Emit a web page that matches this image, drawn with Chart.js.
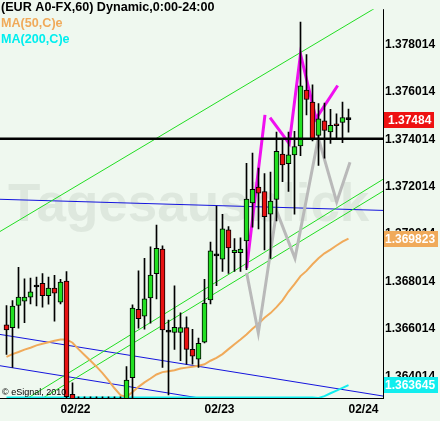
<!DOCTYPE html>
<html><head><meta charset="utf-8">
<script src="https://cdn.jsdelivr.net/npm/chart.js@4.4.1/dist/chart.umd.min.js"></script>
<style>html,body{margin:0;padding:0;background:#eff8ef;overflow:hidden}#wrap{width:440px;height:421px}</style>
</head><body><div id="wrap"><canvas id="c" width="440" height="421"></canvas></div>
<script>
// ---- data (hourly EUR/USD candles, index 0 = 02/21 15:00) ----
const opens  = [1.36618,1.36607,1.36700,1.36718,1.36735,1.36778,1.36794,1.36741,1.36774,1.36714,
                1.36803,1.36325,1.36290,1.36270,1.36255,1.36265,1.36250,1.36262,1.36245,1.36270,
                1.36285,1.36396,1.36684,1.36655,1.36732,1.36834,1.36938,1.36588,1.36586,1.36586,
                1.36607,1.36515,1.36474,1.36545,1.36724,1.36909,1.36895,1.37019,1.36923,1.36923,
                1.36972,1.37133,1.37199,1.37181,1.37085,1.37147,1.37339,1.37298,1.37335,1.37373,
                1.37609,1.37558,1.37417,1.37479,1.37432,1.37466,1.37472,1.37484];
const highs  = [1.36700,1.36721,1.36861,1.36813,1.36816,1.36820,1.36835,1.36820,1.36827,1.36810,
                1.36843,1.36374,1.36315,1.36315,1.36315,1.36315,1.36315,1.36315,1.36315,1.36315,
                1.36442,1.36703,1.36846,1.36899,1.36947,1.37039,1.36952,1.36639,1.36783,1.36669,
                1.36652,1.36600,1.36563,1.36810,1.36968,1.37119,1.37085,1.37033,1.36982,1.36985,
                1.37300,1.37343,1.37280,1.37256,1.37263,1.37431,1.37403,1.37431,1.37435,1.37895,
                1.37758,1.37631,1.37552,1.37554,1.37527,1.37508,1.37558,1.37528];
const lows   = [1.36494,1.36439,1.36604,1.36628,1.36707,1.36698,1.36693,1.36706,1.36634,1.36707,
                1.36250,1.36220,1.36220,1.36200,1.36210,1.36190,1.36200,1.36180,1.36210,1.36220,
                1.36240,1.36280,1.36604,1.36600,1.36625,1.36728,1.36439,1.36323,1.36515,1.36467,
                1.36453,1.36453,1.36439,1.36542,1.36707,1.36784,1.36844,1.36835,1.36844,1.36844,
                1.36851,1.37030,1.37023,1.36934,1.36899,1.37057,1.37222,1.37181,1.37085,1.37332,
                1.37504,1.37394,1.37291,1.37321,1.37384,1.37407,1.37387,1.37431];
const closes = [1.36597,1.36698,1.36736,1.36736,1.36758,1.36778,1.36741,1.36774,1.36752,1.36799,
                1.36316,1.36290,1.36270,1.36255,1.36265,1.36250,1.36262,1.36245,1.36270,1.36280,
                1.36385,1.36689,1.36645,1.36728,1.36828,1.36941,1.36597,1.36588,1.36608,1.36607,
                1.36515,1.36486,1.36540,1.36710,1.36931,1.36909,1.37023,1.36943,1.36934,1.36938,
                1.37149,1.37190,1.37174,1.37075,1.37140,1.37350,1.37293,1.37335,1.37370,1.37627,
                1.37569,1.37403,1.37487,1.37438,1.37460,1.37458,1.37493,1.37484];
const ma50   = [1.36483,1.36495,1.36504,1.36514,1.36522,1.36532,1.36539,1.36545,1.36551,1.36557,
                1.36557,1.36543,1.36516,1.36491,1.36467,1.36442,1.36415,1.36384,1.36351,1.36322,
                1.36314,1.36335,1.36357,1.36376,1.36392,1.36409,1.36419,1.36423,1.36427,1.36434,
                1.36438,1.36442,1.36446,1.36452,1.36467,1.36479,1.36495,1.36516,1.36537,1.36557,
                1.36578,1.36602,1.36623,1.36648,1.36668,1.36693,1.36722,1.36759,1.36790,1.36824,
                1.36846,1.36874,1.36899,1.36920,1.36936,1.36953,1.36969,1.369823];
const ma200  = [1.36312,1.36312,1.36312,1.36312,1.36312,1.36312,1.36312,1.36312,1.36312,1.36312,
                1.36312,1.36312,1.36312,1.36312,1.36312,1.36312,1.36312,1.36312,1.36312,1.36312,
                1.36312,1.36312,1.36312,1.36312,1.36312,1.36312,1.36312,1.36312,1.36312,1.36312,
                1.36312,1.36312,1.36312,1.36312,1.36312,1.36312,1.36312,1.36312,1.36312,1.36312,
                1.36312,1.36312,1.36312,1.36312,1.36312,1.36312,1.36312,1.36312,1.36312,1.36312,
                1.36312,1.36312,1.36310,1.36318,1.36330,1.36341,1.36353,1.363645];
// hand-drawn patterns (x in candle index units, y in price)
const magentaX = [40.03,43.08,43.5,43.92,47.13,49.00,51.58,55.20];
const magentaY = [1.36858,1.37504,null,1.37492,1.37383,1.37760,1.37488,1.37628];
const grayX    = [40.03,41.97,45.03,48.08,51.97,55.03,57.25];
const grayY    = [1.36837,1.36584,1.37098,1.36899,1.37407,1.37137,1.37304];
// trend lines: [x0, x1], [y0, y1]
const supportX = [-1.09,62.8],  supportY = [1.37403,1.37403];
const greenUpX = [-1.09,62.8],  greenUpY = [1.37012,1.37975];
const greenAX  = [3.58,62.8],   greenAY  = [1.36310,1.37233];
const greenBX  = [6.08,62.8],   greenBY  = [1.36310,1.37183];
const blue1X   = [-1.09,62.8],  blue1Y   = [1.37148,1.37101];
const blue2X   = [-1.09,62.8],  blue2Y   = [1.36578,1.36318];
const blue3X   = [-1.09,62.8],  blue3Y   = [1.36446,1.36184];
// axes
const yTickValues = [1.364014,1.366014,1.368014,1.370014,1.372014,1.374014,1.376014,1.378014];
const xTickIndex  = [9,33,57];
const xTickLabels = ['02/22','02/23','02/24'];
const Y_MIN = 1.363099, Y_MAX = 1.379497;
const X_MIN = -1.0833, X_MAX = 62.75;

const BG = '#eff8ef';
const GREEN = '#22e022', RED = '#e81212';
const FONT = '"Liberation Sans", Arial, sans-serif';

const idx = opens.map((_, i) => i);
const wickData = idx.map(i => ({x: i, y: [lows[i], highs[i]]}));
const bodyData = idx.map(i => ({x: i, y: [opens[i], closes[i]]}));
const bodyColors = idx.map(i => closes[i] > opens[i] ? GREEN : (closes[i] < opens[i] ? RED : '#000'));
const pts = (xs, ys) => xs.map((x, k) => ({x, y: ys[k]}));
const line = (data, color, width, order, extra) => Object.assign({
  type: 'line', data, borderColor: color, borderWidth: width, pointRadius: 0,
  tension: 0, fill: false, order, spanGaps: false, borderCapStyle: 'butt'
}, extra || {});

const deco = {
  id: 'deco',
  beforeDraw(chart) {
    const c = chart.ctx; c.save(); c.fillStyle = BG; c.fillRect(0, 0, chart.width, chart.height); c.restore();
  },
  beforeDatasetsDraw(chart) {
    const c = chart.ctx, a = chart.chartArea;
    c.save(); c.beginPath(); c.rect(a.left, a.top, a.right - a.left, a.bottom - a.top); c.clip();
    c.font = 'bold 53px ' + FONT; c.fillStyle = 'rgba(140,155,140,0.17)';
    c.textBaseline = 'alphabetic'; c.fillText('Tagesausblick', 8, 221);
    c.restore();
  },
  afterDatasetsDraw(chart) {
    const c = chart.ctx, a = chart.chartArea;
    c.save(); c.strokeStyle = '#000'; c.lineWidth = 1;
    c.beginPath(); c.moveTo(a.left, a.bottom + 0.5); c.lineTo(a.right + 0.5, a.bottom + 0.5);
    c.moveTo(a.right + 0.5, a.top); c.lineTo(a.right + 0.5, a.bottom + 1); c.stroke();
    c.restore();
  },
  afterDraw(chart) {
    const c = chart.ctx, y = chart.scales.y, a = chart.chartArea;
    c.save();
    c.textBaseline = 'alphabetic'; c.textAlign = 'left';
    c.font = 'bold 12.6px ' + FONT;
    c.fillStyle = '#000'; c.fillText('(EUR A0-FX,60) Dynamic,0:00-24:00', 1, 11);
    c.fillStyle = '#f0aa5a'; c.fillText('MA(50,C)e', 1, 27);
    c.fillStyle = '#00eeee'; c.fillText('MA(200,C)e', 1, 43);
    c.font = '9px ' + FONT; c.fillStyle = '#000'; c.fillText('\u00a9 eSignal, 2010', 2, 395);
    const boxes = [
      [closes[closes.length - 1].toFixed(5), '#ee1111', 50],
      [ma50[ma50.length - 1].toFixed(6), '#f0aa5a', 54],
      [ma200[ma200.length - 1].toFixed(6), '#11eeee', 54]
    ];
    const vals = [closes[closes.length - 1], ma50[ma50.length - 1], ma200[ma200.length - 1]];
    c.font = 'bold 12px ' + FONT; c.textBaseline = 'middle';
    boxes.forEach((b, k) => {
      const py = Math.round(y.getPixelForValue(vals[k]));
      c.fillStyle = b[1]; c.fillRect(a.right + 1, py - 8, b[2], 16);
      c.fillStyle = '#fff'; c.fillText(b[0], a.right + (b[2] === 50 ? 5 : 2), py + 0.5);
    });
    c.restore();
  }
};

new Chart(document.getElementById('c'), {
  type: 'bar',
  data: {
    datasets: [
      line(pts(supportX, supportY), '#000', 2.5, 0),
      {type: 'bar', data: bodyData, grouped: false, backgroundColor: bodyColors, borderColor: '#000',
       borderWidth: 1, borderSkipped: false, barPercentage: 1, categoryPercentage: 1, maxBarThickness: 5,
       minBarLength: 2, order: 1},
      {type: 'bar', data: wickData, grouped: false, backgroundColor: '#000', borderWidth: 0,
       barPercentage: 1, categoryPercentage: 1, maxBarThickness: 1, order: 2},
      line(pts(magentaX, magentaY), '#f010f0', 3, 3),
      line(pts(grayX, grayY), '#b9b9b9', 3, 4),
      line(idx.map(i => ({x: i, y: ma50[i]})), '#f0aa5a', 2, 5),
      line(idx.map(i => ({x: i, y: ma200[i]})), '#11eeee', 2, 6),
      line(pts(greenUpX, greenUpY), '#22dd22', 1, 7),
      line(pts(greenAX, greenAY), '#22dd22', 1, 7),
      line(pts(greenBX, greenBY), '#22dd22', 1, 7),
      line(pts(blue1X, blue1Y), '#1414dd', 1, 8),
      line(pts(blue2X, blue2Y), '#1414dd', 1, 8),
      line(pts(blue3X, blue3Y), '#1414dd', 1, 8)
    ]
  },
  options: {
    responsive: false, animation: false, devicePixelRatio: 1,
    layout: {padding: 0},
    plugins: {legend: {display: false}, tooltip: {enabled: false}},
    scales: {
      x: {type: 'linear', min: X_MIN, max: X_MAX, offset: false,
          grid: {display: false, drawTicks: false}, border: {display: false},
          ticks: {align: 'start', padding: 4, maxRotation: 0, autoSkip: false, color: '#000',
                  font: {family: FONT, size: 12, weight: 'bold'},
                  callback: v => { const k = xTickIndex.indexOf(v); return k >= 0 ? xTickLabels[k] : ''; }},
          afterBuildTicks: s => { s.ticks = xTickIndex.map(v => ({value: v})); },
          afterFit: s => { s.height = 23; }},
      y: {position: 'right', min: Y_MIN, max: Y_MAX,
          grid: {display: false, drawTicks: false}, border: {display: false},
          ticks: {padding: 2, color: '#000', font: {family: FONT, size: 12, weight: 'bold'},
                  callback: v => Number(v).toFixed(6)},
          afterBuildTicks: s => { s.ticks = yTickValues.map(v => ({value: v})); },
          afterFit: s => { s.width = 57; }}
    }
  },
  plugins: [deco]
});
</script></body></html>
